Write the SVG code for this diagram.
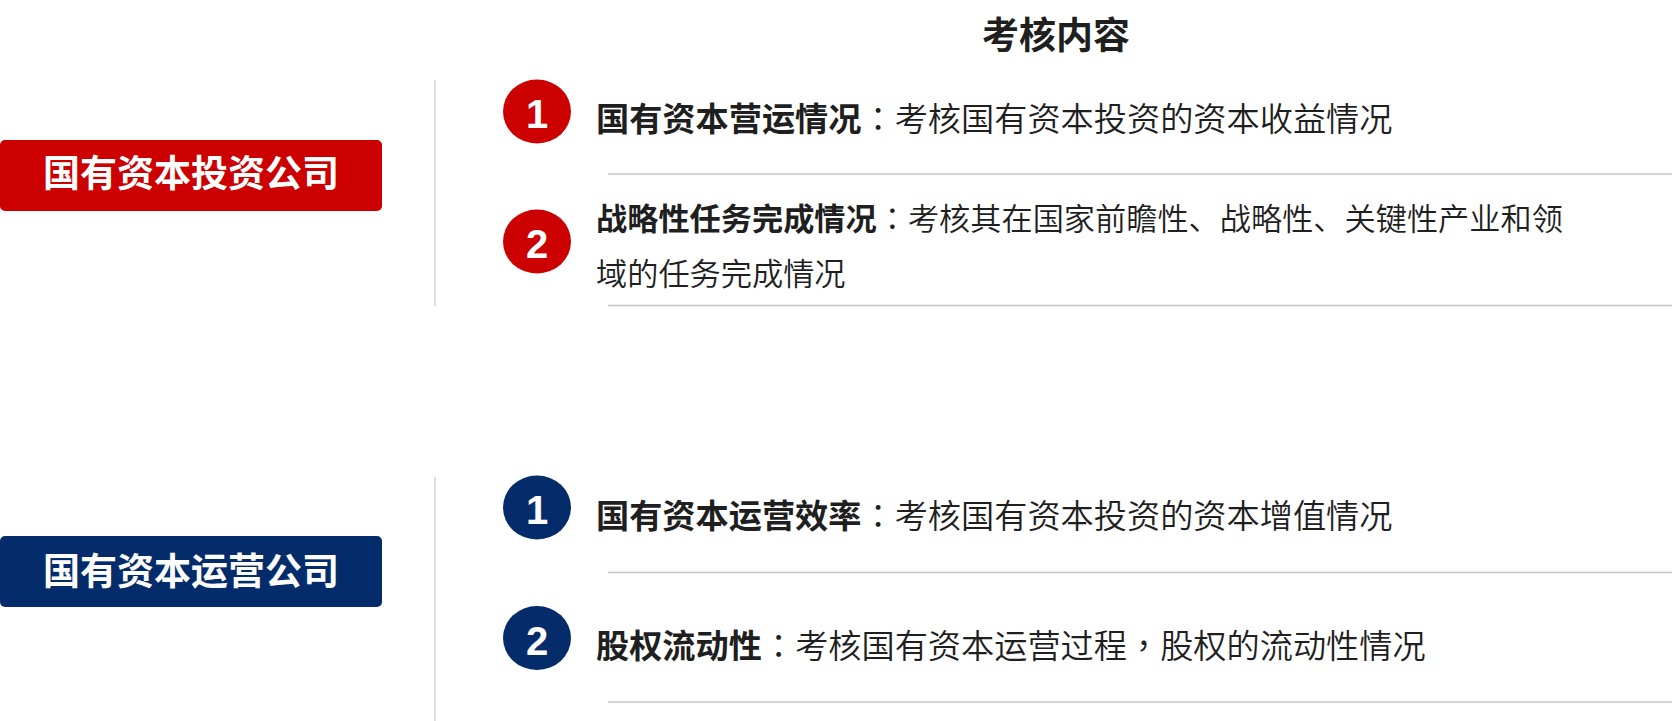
<svg xmlns="http://www.w3.org/2000/svg" width="1672" height="721" viewBox="0 0 1672 721">
<style>
.cjk{font-family:"Noto Sans CJK SC","Noto Sans",sans-serif;fill:#1f1f1f;font-weight:350}
.b{font-weight:bold}
.p{font-family:"Noto Sans CJK TC","Noto Sans CJK SC",sans-serif}
.boxtxt{font-family:"Noto Sans CJK SC","Noto Sans",sans-serif;font-weight:bold;font-size:37px;fill:#ffffff;text-anchor:middle}
.num{font-family:"Liberation Sans",Arial,sans-serif;font-weight:bold;font-size:40px;fill:#ffffff;text-anchor:middle}
.vsep{stroke:#c8c8c8;stroke-width:1.2;fill:none}
.hsep{stroke:#c4c4c4;stroke-width:1.5;fill:none}
.red{fill:#cc0000}
.blue{fill:#052c6a}
</style>
<rect width="1672" height="721" fill="#ffffff"/>
<g id="title">
<text class="cjk b" x="1056" y="49" font-size="37" text-anchor="middle">考核内容</text>
</g>
<g id="connectors">
<line class="vsep" x1="435" y1="80" x2="435" y2="306"/>
<line class="vsep" x1="435" y1="477" x2="435" y2="721"/>
<line class="hsep" x1="608" y1="174" x2="1672" y2="174"/>
<line class="hsep" x1="608" y1="305.5" x2="1672" y2="305.5"/>
<line class="hsep" x1="608" y1="572.5" x2="1672" y2="572.5"/>
<line class="hsep" x1="608" y1="702" x2="1672" y2="702"/>
</g>
<g id="invest-company">
<rect class="red" x="0" y="140" width="382" height="71" rx="5"/>
<text class="boxtxt" x="191" y="187">国有资本投资公司</text>
</g>
<g id="operate-company">
<rect class="blue" x="0" y="536" width="382" height="71" rx="5"/>
<text class="boxtxt" x="191" y="584.5">国有资本运营公司</text>
</g>
<g id="invest-item-1">
<ellipse class="red" cx="537" cy="111.5" rx="34" ry="32"/>
<text class="num" x="537" y="128">1</text>
<text class="cjk" x="596" y="130.5" font-size="33.2"><tspan class="b">国有资本营运情况</tspan><tspan class="p">：</tspan>考核国有资本投资的资本收益情况</text>
</g>
<g id="invest-item-2">
<ellipse class="red" cx="537" cy="241.5" rx="34" ry="32"/>
<text class="num" x="537" y="258">2</text>
<text class="cjk" x="596" y="229.5" font-size="31.2"><tspan class="b">战略性任务完成情况</tspan><tspan class="p">：</tspan>考核其在国家前瞻性、战略性、关键性产业和领</text>
<text class="cjk" x="596" y="284.5" font-size="31.2">域的任务完成情况</text>
</g>
<g id="operate-item-1">
<ellipse class="blue" cx="537" cy="507.5" rx="34" ry="32"/>
<text class="num" x="537" y="524">1</text>
<text class="cjk" x="596" y="528" font-size="33.2"><tspan class="b">国有资本运营效率</tspan><tspan class="p">：</tspan>考核国有资本投资的资本增值情况</text>
</g>
<g id="operate-item-2">
<ellipse class="blue" cx="537" cy="638" rx="34" ry="32"/>
<text class="num" x="537" y="655">2</text>
<text class="cjk" x="596" y="657.5" font-size="33.2"><tspan class="b">股权流动性</tspan><tspan class="p">：</tspan>考核国有资本运营过程<tspan class="p">，</tspan>股权的流动性情况</text>
</g>
</svg>
